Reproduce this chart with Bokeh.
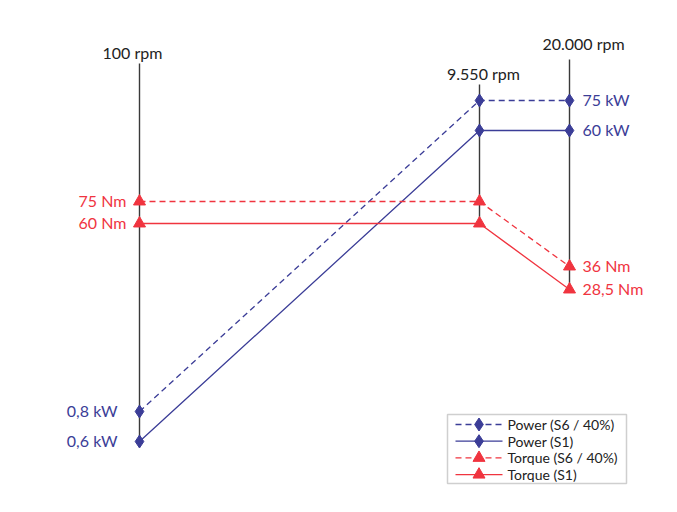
from bokeh.plotting import figure
from bokeh.models import Range1d, ColumnDataSource
from bokeh.core.properties import value
from bokeh.embed import file_html
from bokeh.resources import INLINE

# ---- data ----
speed_labels = ["100 rpm", "9.550 rpm", "20.000 rpm"]
power_s6_kw = [0.8, 75, 75]
power_s1_kw = [0.6, 60, 60]
torque_s6_nm = [75, 75, 36]
torque_s1_nm = [60, 60, 28.5]
series_names = ["Power (S6 / 40%)", "Power (S1)", "Torque (S6 / 40%)", "Torque (S1)"]

# ---- schematic layout (the diagram is not drawn to scale) ----
speed_pos = {"100 rpm": 139, "9.550 rpm": 479, "20.000 rpm": 569}
speed_label_pos = {"100 rpm": (132, 52), "9.550 rpm": (483, 73), "20.000 rpm": (583, 43)}
speed_line_top = {"100 rpm": 63, "9.550 rpm": 84, "20.000 rpm": 59}
power_level = {75: 100, 60: 130, 0.8: 411, 0.6: 441}
torque_level = {75: 201, 60: 223, 36: 266, 28.5: 289}
legend_box = dict(left=447, right=626, top=414, bottom=483)
legend_row0, legend_pitch = 424, 16.7
legend_glyph_x = (455, 502)

BLUE = "#3b3d97"
RED = "#f0343f"
FONT = "Lato"

W, H = 660, 496
p = figure(width=W, height=H, output_backend="svg", toolbar_location=None,
           x_range=Range1d(0, W), y_range=Range1d(H, 0), min_border=0,
           x_axis_location=None, y_axis_location=None)
p.grid.visible = False
p.outline_line_color = None
p.background_fill_color = "white"
p.border_fill_color = "white"

series = [
    (series_names[0], power_s6_kw, "kW", BLUE, "6 4", "diamond"),
    (series_names[1], power_s1_kw, "kW", BLUE, "solid", "diamond"),
    (series_names[2], torque_s6_nm, "Nm", RED, "6 4", "triangle"),
    (series_names[3], torque_s1_nm, "Nm", RED, "solid", "triangle"),
]
MARKER_SIZE = {"diamond": 13, "triangle": 12}

def fmt(v, unit):
    return f"{v:g}".replace(".", ",") + " " + unit

# lowest point per speed column -> bottom of its vertical line
col_bottom = {s: 0 for s in speed_labels}
for name, vals, unit, color, dash, marker in series:
    levels = power_level if unit == "kW" else torque_level
    for s, v in zip(speed_labels, vals):
        col_bottom[s] = max(col_bottom[s], levels[v])

# vertical speed lines and their labels
p.segment(x0=[speed_pos[s] for s in speed_labels], y0=[speed_line_top[s] for s in speed_labels],
          x1=[speed_pos[s] for s in speed_labels], y1=[col_bottom[s] for s in speed_labels],
          line_color="#3a3a3a", line_width=1.4)
p.text(x=[speed_label_pos[s][0] for s in speed_labels], y=[speed_label_pos[s][1] for s in speed_labels],
       text=speed_labels, text_align="center", text_baseline="middle",
       text_font=value(FONT), text_font_size="16px", text_color="#222222")

for name, vals, unit, color, dash, marker in series:
    levels = power_level if unit == "kW" else torque_level
    xs = [speed_pos[s] for s in speed_labels]
    ys = [levels[v] for v in vals]
    src = ColumnDataSource(dict(x=xs, y=ys))
    p.line("x", "y", source=src, line_color=color, line_width=1.3, line_dash=dash)
    p.scatter("x", "y", source=src, marker=marker, size=MARKER_SIZE[marker],
              fill_color=color, line_color=color)
    left_off = -22 if unit == "kW" else -13
    p.text(x=[xs[0]], y=[ys[0]], text=[fmt(vals[0], unit)], x_offset=left_off, y_offset=-1,
           text_align="right", text_baseline="middle", text_font=value(FONT),
           text_font_size="16px", text_color=color)
    p.text(x=[xs[-1]], y=[ys[-1]], text=[fmt(vals[-1], unit)], x_offset=13, y_offset=-1,
           text_align="left", text_baseline="middle", text_font=value(FONT),
           text_font_size="16px", text_color=color)

# legend box drawn with the series' own styles
p.quad(left=[legend_box["left"]], right=[legend_box["right"]],
       top=[legend_box["top"]], bottom=[legend_box["bottom"]],
       fill_color="white", line_color="#cfcfcf", line_width=1.5)
for i, (name, vals, unit, color, dash, marker) in enumerate(series):
    ry = legend_row0 + i * legend_pitch
    gx0, gx1 = legend_glyph_x
    p.segment(x0=[gx0], y0=[ry], x1=[gx1], y1=[ry], line_color=color, line_width=1.3, line_dash=dash)
    p.scatter(x=[(gx0 + gx1) / 2], y=[ry], marker=marker, size=MARKER_SIZE[marker],
              fill_color=color, line_color=color)
    p.text(x=[gx1 + 5], y=[ry], text=[name], text_align="left", text_baseline="middle",
           text_font=value(FONT), text_font_size="14px", text_color="#222222")

open("out.html", "w").write(file_html(p, INLINE))
